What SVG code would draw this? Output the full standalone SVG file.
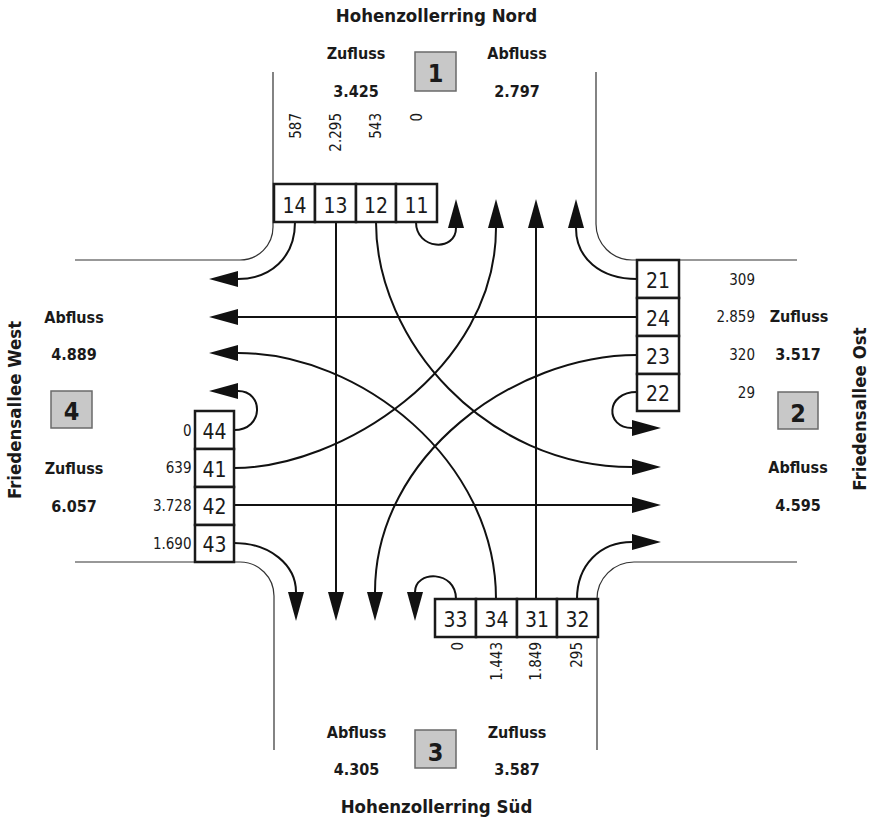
<svg xmlns="http://www.w3.org/2000/svg" width="869" height="821" viewBox="0 0 869 821">
<style>
text{font-family:"DejaVu Sans Condensed","DejaVu Sans",sans-serif;font-stretch:condensed;fill:#1a1a1a}
.b{font-weight:bold;font-size:16px;text-anchor:middle}
.t{font-weight:bold;font-size:18.5px;text-anchor:middle}
.c{font-size:21px;text-anchor:middle}
.s{font-size:15px}
.r{text-anchor:end}
.big{font-weight:bold;font-size:25px;text-anchor:middle}
.cell{fill:#fff;stroke:#1a1a1a;stroke-width:2.5}
.lab{fill:#c8c8c8;stroke:#6a6a6a;stroke-width:1.5}
.road{fill:none;stroke:#333;stroke-width:1.2}
.f{fill:none;stroke:#111;stroke-width:2;marker-end:url(#ah)}
</style>
<defs>
<marker id="ah" markerUnits="userSpaceOnUse" markerWidth="30" markerHeight="17" refX="0" refY="8" orient="auto" viewBox="0 0 30 17">
<path d="M0,0 L29,8 L0,16 z" fill="#111"/>
</marker>
</defs>
<g id="roads">
<path class="road" d="M273,72 L273,227 A33,33 0 0 1 240,260 L75,260"/>
<path class="road" d="M596,72 L596,224 A36,36 0 0 0 632,260 L797,260"/>
<path class="road" d="M75,562 L240,562 A34,34 0 0 1 274,596 L274,750"/>
<path class="road" d="M797,562 L634,562 A37,37 0 0 0 597,599 L597,750"/>
</g>
<g id="connectors">
<path class="f" d="M295,222 C295,258 270,279 238,279"/>
<path class="f" d="M336,222 L336,592"/>
<path class="f" d="M376,222 C376,340 485,467 632,467"/>
<path class="f" d="M416,222 C416,250 456,252 456,228"/>
<path class="f" d="M637,279 C600,279 576,258 576,228"/>
<path class="f" d="M637,317 L238,317"/>
<path class="f" d="M637,355 C515,355 375,455 375,592"/>
<path class="f" d="M637,392 C605,392 605,428 632,428"/>
<path class="f" d="M234,430 C264,430 264,391 238,391"/>
<path class="f" d="M234,468 C340,468 496,370 496,228"/>
<path class="f" d="M234,505 L632,505"/>
<path class="f" d="M234,543 C270,543 296,565 296,592"/>
<path class="f" d="M456,599 C456,570 415,570 415,592"/>
<path class="f" d="M496,599 C496,460 360,353 238,353"/>
<path class="f" d="M536,599 L536,228"/>
<path class="f" d="M577,599 C577,565 600,542 632,542"/>
</g>
<g id="lane14"><rect class="cell" x="274" y="184" width="41" height="38"/><text class="c" x="294.5" y="213">14</text></g>
<g id="lane13"><rect class="cell" x="315" y="184" width="41" height="38"/><text class="c" x="335.5" y="213">13</text></g>
<g id="lane12"><rect class="cell" x="356" y="184" width="40" height="38"/><text class="c" x="376" y="213">12</text></g>
<g id="lane11"><rect class="cell" x="396" y="184" width="41" height="38"/><text class="c" x="416.5" y="213">11</text></g>
<g id="lane21"><rect class="cell" x="637" y="260" width="42" height="38"/><text class="c" x="658" y="288">21</text></g>
<g id="lane24"><rect class="cell" x="637" y="298" width="42" height="38"/><text class="c" x="658" y="326">24</text></g>
<g id="lane23"><rect class="cell" x="637" y="336" width="42" height="38"/><text class="c" x="658" y="363.5">23</text></g>
<g id="lane22"><rect class="cell" x="637" y="374" width="42" height="37"/><text class="c" x="658" y="401">22</text></g>
<g id="lane44"><rect class="cell" x="195" y="411" width="39" height="38"/><text class="c" x="214.5" y="439">44</text></g>
<g id="lane41"><rect class="cell" x="195" y="449" width="39" height="38"/><text class="c" x="214.5" y="477">41</text></g>
<g id="lane42"><rect class="cell" x="195" y="487" width="39" height="38"/><text class="c" x="214.5" y="514">42</text></g>
<g id="lane43"><rect class="cell" x="195" y="525" width="39" height="37"/><text class="c" x="214.5" y="552">43</text></g>
<g id="lane33"><rect class="cell" x="435" y="599" width="41" height="38"/><text class="c" x="455.5" y="627">33</text></g>
<g id="lane34"><rect class="cell" x="476" y="599" width="41" height="38"/><text class="c" x="496.5" y="627">34</text></g>
<g id="lane31"><rect class="cell" x="517" y="599" width="40" height="38"/><text class="c" x="537" y="627">31</text></g>
<g id="lane32"><rect class="cell" x="557" y="599" width="41" height="38"/><text class="c" x="577.5" y="627">32</text></g>
<g id="approach1">
<text class="t" x="436.5" y="22">Hohenzollerring Nord</text>
<text class="b" x="356" y="59">Zufluss</text>
<text class="b" x="356" y="97">3.425</text>
<text class="b" x="517" y="59">Abfluss</text>
<text class="b" x="517" y="97">2.797</text>
<rect class="lab" x="415" y="52" width="41" height="39"/>
<text class="big" x="435.5" y="82">1</text>
<text class="s r" transform="translate(301,113) rotate(-90)">587</text>
<text class="s r" transform="translate(341,113) rotate(-90)">2.295</text>
<text class="s r" transform="translate(381,113) rotate(-90)">543</text>
<text class="s r" transform="translate(421.5,113) rotate(-90)">0</text>
</g>
<g id="approach2">
<text class="s r" x="755" y="285">309</text>
<text class="s r" x="755" y="322">2.859</text>
<text class="s r" x="755" y="359.5">320</text>
<text class="s r" x="755" y="397.5">29</text>
<text class="b" x="799" y="322">Zufluss</text>
<text class="b" x="798" y="360">3.517</text>
<rect class="lab" x="778" y="392" width="40" height="37"/>
<text class="big" x="798" y="421.5">2</text>
<text class="b" x="798" y="473">Abfluss</text>
<text class="b" x="798" y="510.5">4.595</text>
<text class="t" transform="translate(865.5,409) rotate(-90)">Friedensallee Ost</text>
</g>
<g id="approach3">
<text class="s r" transform="translate(463,642) rotate(-90)">0</text>
<text class="s r" transform="translate(502,642) rotate(-90)">1.443</text>
<text class="s r" transform="translate(541,642) rotate(-90)">1.849</text>
<text class="s r" transform="translate(582,642) rotate(-90)">295</text>
<text class="b" x="356.5" y="738">Abfluss</text>
<text class="b" x="356.5" y="775">4.305</text>
<rect class="lab" x="415" y="730" width="41" height="38"/>
<text class="big" x="435.5" y="760.5">3</text>
<text class="b" x="517" y="738">Zufluss</text>
<text class="b" x="517" y="775">3.587</text>
<text class="t" x="436.5" y="813">Hohenzollerring Süd</text>
</g>
<g id="approach4">
<text class="t" transform="translate(21,410) rotate(-90)">Friedensallee West</text>
<text class="b" x="74" y="322.5">Abfluss</text>
<text class="b" x="74" y="360">4.889</text>
<rect class="lab" x="51" y="391" width="41" height="37"/>
<text class="big" x="71.5" y="420">4</text>
<text class="b" x="74" y="473.5">Zufluss</text>
<text class="b" x="74" y="511.5">6.057</text>
<text class="s r" x="191.5" y="436">0</text>
<text class="s r" x="191.5" y="473">639</text>
<text class="s r" x="191.5" y="511">3.728</text>
<text class="s r" x="191.5" y="549">1.690</text>
</g>
</svg>
